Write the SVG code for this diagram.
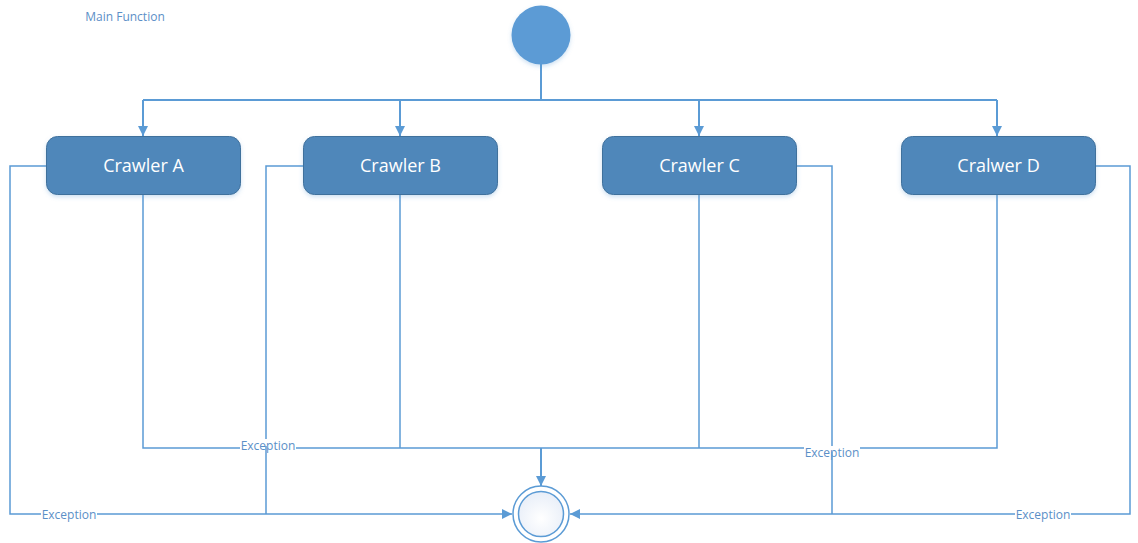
<svg xmlns="http://www.w3.org/2000/svg" width="1138" height="543" viewBox="0 0 1138 543">
<style>
.c{fill:none;stroke:#5b9bd5;stroke-width:2}
.e{fill:none;stroke:#5b9bd5;stroke-width:1.5}
.box{fill:#4f87ba;stroke:#41719c;stroke-width:1}
.bt{font-family:"Open Sans","Liberation Sans",sans-serif;font-size:18px;fill:#ffffff;text-anchor:middle}
.lb{font-family:"Open Sans","Liberation Sans",sans-serif;font-size:12px;fill:#5b8fc7;text-anchor:middle}
.lbg{fill:#ffffff}
</style>
<defs>
<marker id="arb" viewBox="0 0 10 10" refX="10" refY="5" markerWidth="10" markerHeight="10" markerUnits="userSpaceOnUse" orient="auto">
<path d="M0,0 L10,5 L0,10 z" fill="#5b9bd5"/>
</marker>
<radialGradient id="fg" cx="0.5" cy="0.6" r="0.6">
<stop offset="0" stop-color="#ffffff"/>
<stop offset="1" stop-color="#e8eef8"/>
</radialGradient>
<filter id="sh" x="-20%" y="-20%" width="140%" height="150%">
<feDropShadow dx="0" dy="2" stdDeviation="2" flood-color="#5b9bd5" flood-opacity="0.3"/>
</filter>
</defs>
<text x="125" y="21" class="lb" style="font-size:12px">Main Function</text>
<g id="connectors">
<path class="c" d="M541,64 V100"/>
<path class="c" d="M143,100 H997"/>
<path class="c" d="M143,100 V136" marker-end="url(#arb)"/>
<path class="c" d="M400,100 V136" marker-end="url(#arb)"/>
<path class="c" d="M699,100 V136" marker-end="url(#arb)"/>
<path class="c" d="M997,100 V136" marker-end="url(#arb)"/>
<path class="e" d="M143,194 V448 H997 V194"/>
<path class="e" d="M400,194 V448"/>
<path class="e" d="M699,194 V448"/>
<path class="c" d="M541,448 V486" marker-end="url(#arb)"/>
<path class="e" d="M46,166 H10 V514 H512" marker-end="url(#arb)"/>
<path class="e" d="M303,166 H266 V514"/>
<path class="e" d="M796,166 H832 V514"/>
<path class="e" d="M1095,166 H1130 V514 H570" marker-end="url(#arb)"/>
<rect class="lbg" x="240" y="439" width="56" height="14"/>
<text x="268" y="450" class="lb">Exception</text>
<rect class="lbg" x="804" y="446" width="56" height="14"/>
<text x="832" y="457" class="lb">Exception</text>
<rect class="lbg" x="41" y="508" width="56" height="14"/>
<text x="69" y="519" class="lb">Exception</text>
<rect class="lbg" x="1015" y="508" width="56" height="14"/>
<text x="1043" y="519" class="lb">Exception</text>
<path class="e" d="M266,446 V453"/>
<path class="e" d="M832,452 V460"/>
</g>
<g id="start">
<circle cx="541" cy="35" r="29.5" fill="#5b9bd5" filter="url(#sh)"/>
</g>
<g id="crawlerA">
<rect class="box" x="46.5" y="136.5" width="194" height="58" rx="11" filter="url(#sh)"/>
<text x="143.5" y="172" class="bt">Crawler A</text>
</g>
<g id="crawlerB">
<rect class="box" x="303.5" y="136.5" width="194" height="58" rx="11" filter="url(#sh)"/>
<text x="400.5" y="172" class="bt">Crawler B</text>
</g>
<g id="crawlerC">
<rect class="box" x="602.5" y="136.5" width="194" height="58" rx="11" filter="url(#sh)"/>
<text x="699.5" y="172" class="bt">Crawler C</text>
</g>
<g id="crawlerD">
<rect class="box" x="901.5" y="136.5" width="194" height="58" rx="11" filter="url(#sh)"/>
<text x="998.5" y="172" class="bt">Cralwer D</text>
</g>
<g id="end">
<circle cx="541" cy="514" r="28" fill="#ffffff" stroke="#5b9bd5" stroke-width="1.5"/>
<circle cx="541" cy="514" r="22.5" fill="url(#fg)" stroke="#5b9bd5" stroke-width="1.5"/>
</g>
</svg>
